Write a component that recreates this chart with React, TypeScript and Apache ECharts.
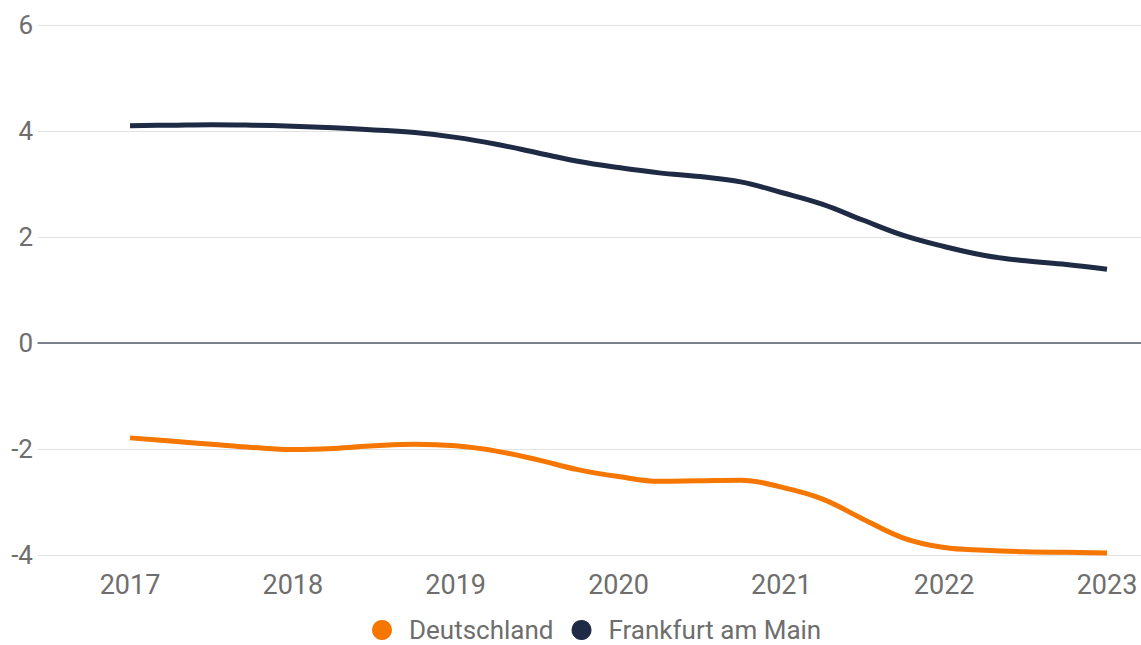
import React, { useEffect, useRef } from "react";
import * as echarts from "echarts";

const periods = [
  2017, 2017.25, 2017.5, 2017.75, 2018, 2018.25, 2018.5, 2018.75, 2019, 2019.25, 2019.5, 2019.75, 2020,
  2020.25, 2020.5, 2020.75, 2021, 2021.25, 2021.5, 2021.75, 2022, 2022.25, 2022.5, 2022.75, 2023,
];
const deutschland = [
  -1.79, -1.85, -1.91, -1.97, -2.01, -1.99, -1.94, -1.91, -1.94, -2.04, -2.2, -2.39, -2.52,
  -2.61, -2.6, -2.59, -2.72, -2.94, -3.32, -3.68, -3.86, -3.91, -3.94, -3.95, -3.96,
];
const frankfurt = [
  4.1, 4.11, 4.12, 4.11, 4.09, 4.06, 4.02, 3.97, 3.88, 3.75, 3.59, 3.43, 3.31,
  3.21, 3.14, 3.04, 2.84, 2.62, 2.32, 2.03, 1.82, 1.65, 1.55, 1.48, 1.39,
];
const yTicks = [-4, -2, 0, 2, 4, 6];
const yearLabels = [2017, 2018, 2019, 2020, 2021, 2022, 2023];

const FONT = "Roboto, 'Noto Sans', sans-serif";
const TEXT = "#6e6e6e";

export default function App() {
  const ref = useRef<HTMLDivElement>(null);
  useEffect(() => {
    if (!ref.current) return;
    const chart = echarts.init(ref.current, undefined, { renderer: "svg" });
    const pairs = (vals: number[]) => vals.map((v, i) => [periods[i], v]);
    chart.setOption({
      animation: false,
      backgroundColor: "#ffffff",
      textStyle: { fontFamily: FONT },
      legend: {
        left: 372,
        top: 617,
        icon: "circle",
        itemWidth: 20,
        itemHeight: 20,
        itemGap: 18,
        padding: 0,
        textStyle: { fontSize: 26, color: TEXT, fontFamily: FONT, padding: [0, 0, 0, 12] },
        data: ["Deutschland", "Frankfurt am Main"],
      },
      grid: [
        { left: 38, right: 0, top: 25, bottom: 90 },
        { left: 130, right: 34, top: 25, bottom: 90 },
      ],
      xAxis: [
        {
          gridIndex: 0,
          type: "value",
          min: 0,
          max: 1,
          axisLabel: { show: false },
          axisTick: { show: false },
          splitLine: { show: false },
          axisLine: { show: true, onZero: true, lineStyle: { color: "#565e6d", width: 1.5 } },
        },
        {
          gridIndex: 1,
          type: "value",
          min: yearLabels[0],
          max: yearLabels[yearLabels.length - 1],
          interval: 1,
          axisLine: { show: false },
          axisTick: { show: false },
          splitLine: { show: false },
          axisLabel: {
            fontSize: 27,
            color: TEXT,
            fontFamily: FONT,
            margin: 16,
            formatter: (v: number) => String(v),
          },
        },
      ],
      yAxis: [
        {
          gridIndex: 0,
          type: "value",
          min: yTicks[0],
          max: yTicks[yTicks.length - 1],
          interval: 2,
          axisLine: { show: false },
          axisTick: { show: false },
          axisLabel: { fontSize: 26, color: TEXT, fontFamily: FONT, margin: 5 },
          splitLine: { show: true, lineStyle: { color: "#e3e3e3", width: 1 } },
        },
        {
          gridIndex: 1,
          type: "value",
          min: yTicks[0],
          max: yTicks[yTicks.length - 1],
          interval: 2,
          show: false,
          splitLine: { show: false },
        },
      ],
      series: [
        {
          name: "Deutschland",
          type: "line",
          xAxisIndex: 1,
          yAxisIndex: 1,
          data: pairs(deutschland),
          smooth: 0.4,
          showSymbol: false,
          symbol: "circle",
          color: "#f57600",
          lineStyle: { width: 5, color: "#f57600", cap: "butt" },
        },
        {
          name: "Frankfurt am Main",
          type: "line",
          xAxisIndex: 1,
          yAxisIndex: 1,
          data: pairs(frankfurt),
          smooth: 0.4,
          showSymbol: false,
          symbol: "circle",
          color: "#1f2a44",
          lineStyle: { width: 5, color: "#1f2a44", cap: "butt" },
        },
      ],
    });
    return () => chart.dispose();
  }, []);
  return (
    <div
      ref={ref}
      style={{ position: "absolute", left: 0, top: 0, width: 1141, height: 645 }}
    />
  );
}
